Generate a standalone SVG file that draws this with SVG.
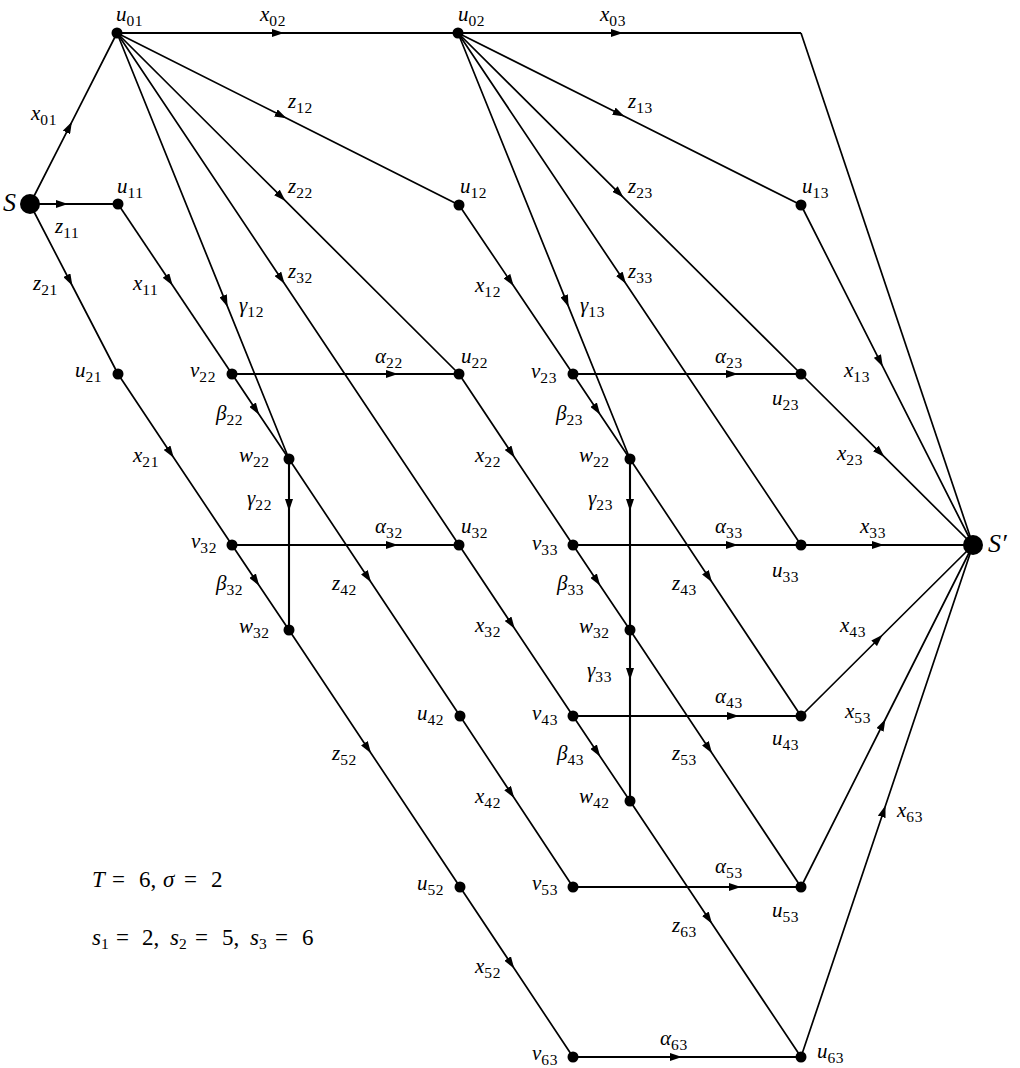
<svg xmlns="http://www.w3.org/2000/svg" width="1020" height="1068" viewBox="0 0 1020 1068">
<style>
.e{fill:none;stroke:#000;stroke-width:1.7;marker-mid:url(#ar)}
.p{fill:none;stroke:#000;stroke-width:1.7}
.h{stroke-width:2.1}
.n{fill:#000}
text{font-family:"Liberation Serif","Times New Roman",serif;fill:#000}
.lb{font-size:21px;font-style:italic}
.sb{font-size:15.5px;font-style:normal;letter-spacing:0.6px}
.big{font-size:26px;font-style:italic}
.eq{font-size:23px}
</style>
<defs>
<marker id="ar" viewBox="0 0 12 8" refX="6" refY="4" markerWidth="12" markerHeight="8" markerUnits="userSpaceOnUse" orient="auto"><path d="M0,0 L12,4 L0,8 z" fill="#000"/></marker>
</defs>
<rect width="1020" height="1068" fill="#fff"/>
<g id="connectors">
<path class="e" d="M30,204 L69.2,127.1 L117,33"/>
<path class="e h" d="M30,204 L62,204 L118,204"/>
<path class="e" d="M30,204 L69.6,280.5 L118,374"/>
<path class="e h" d="M117,33 L278,33 L458,33"/>
<path class="e" d="M117,33 L281.2,115.6 L459,205"/>
<path class="e" d="M117,33 L281.2,196.7 L459,374"/>
<path class="e" d="M117,33 L281.2,278.8 L459,545"/>
<path class="e" d="M117,33 L225.4,301.4 L289,459"/>
<path class="e" d="M118,204 L169.3,280.5 L232,374"/>
<path class="e" d="M232,374 L255.9,409.7 L289,459"/>
<path class="e" d="M118,374 L170.4,452.7 L232,545"/>
<path class="e" d="M232,545 L255.9,580.7 L289,630"/>
<path class="e h" d="M289,459 L289,505 L289,630"/>
<path class="e h" d="M232,374 L392,374 L459,374"/>
<path class="e h" d="M232,545 L392,545 L459,545"/>
<path class="e" d="M289,459 L367.7,577.2 L460,716"/>
<path class="e" d="M289,630 L367.7,748.2 L460,887"/>
<path class="e h" d="M458,33 L617,33 L801,33"/>
<path class="p" d="M801,33 L973,545"/>
<path class="e" d="M458,33 L619.2,113.8 L801,205"/>
<path class="e" d="M458,33 L619.2,193.3 L801,374"/>
<path class="e" d="M458,33 L622.6,278.8 L801,545"/>
<path class="e" d="M458,33 L566.4,301.4 L630,459"/>
<path class="e" d="M459,205 L510.3,281.1 L573,374"/>
<path class="e" d="M459,374 L511.4,452.7 L573,545"/>
<path class="e" d="M459,545 L511.4,623.7 L573,716"/>
<path class="e" d="M460,716 L510.9,793 L573,887"/>
<path class="e" d="M460,887 L510.9,963.5 L573,1057"/>
<path class="e" d="M573,374 L596.9,409.7 L630,459"/>
<path class="e" d="M573,545 L596.9,580.7 L630,630"/>
<path class="e" d="M573,716 L596.9,751.7 L630,801"/>
<path class="e h" d="M630,459 L630,505 L630,630"/>
<path class="e h" d="M630,630 L630,674 L630,801"/>
<path class="e h" d="M573,374 L732,374 L801,374"/>
<path class="e h" d="M573,545 L732,545 L801,545"/>
<path class="e h" d="M573,716 L733,716 L801,716"/>
<path class="e h" d="M573,887 L735,887 L801,887"/>
<path class="e h" d="M573,1057 L676,1057 L801,1057"/>
<path class="e" d="M630,459 L708.7,577.2 L801,716"/>
<path class="e" d="M630,630 L708.7,748.2 L801,887"/>
<path class="e" d="M630,801 L708.7,918.8 L801,1057"/>
<path class="e" d="M801,205 L880.1,361.4 L973,545"/>
<path class="e" d="M801,374 L880.1,452.7 L973,545"/>
<path class="e h" d="M801,545 L878,545 L973,545"/>
<path class="e" d="M801,716 L878.4,639 L973,545"/>
<path class="e" d="M801,887 L882.7,724.5 L973,545"/>
<path class="e" d="M801,1057 L883.6,811.2 L973,545"/>
<text class="lb" x="260" y="21">x<tspan class="sb" dy="5">02</tspan></text>
<text class="lb" x="31" y="120">x<tspan class="sb" dy="5">01</tspan></text>
<text class="lb" x="288" y="108">z<tspan class="sb" dy="5">12</tspan></text>
<text class="lb" x="288" y="193">z<tspan class="sb" dy="5">22</tspan></text>
<text class="lb" x="55" y="233">z<tspan class="sb" dy="5">11</tspan></text>
<text class="lb" x="33" y="290">z<tspan class="sb" dy="5">21</tspan></text>
<text class="lb" x="133" y="290">x<tspan class="sb" dy="5">11</tspan></text>
<text class="lb" x="239" y="312">γ<tspan class="sb" dy="5">12</tspan></text>
<text class="lb" x="288" y="278">z<tspan class="sb" dy="5">32</tspan></text>
<text class="lb" x="600" y="21">x<tspan class="sb" dy="5">03</tspan></text>
<text class="lb" x="628" y="108">z<tspan class="sb" dy="5">13</tspan></text>
<text class="lb" x="628" y="193">z<tspan class="sb" dy="5">23</tspan></text>
<text class="lb" x="475" y="292">x<tspan class="sb" dy="5">12</tspan></text>
<text class="lb" x="580" y="312">γ<tspan class="sb" dy="5">13</tspan></text>
<text class="lb" x="628" y="278">z<tspan class="sb" dy="5">33</tspan></text>
<text class="lb" x="216" y="420">β<tspan class="sb" dy="5">22</tspan></text>
<text class="lb" x="133" y="462">x<tspan class="sb" dy="5">21</tspan></text>
<text class="lb" x="247" y="505">γ<tspan class="sb" dy="5">22</tspan></text>
<text class="lb" x="216" y="590">β<tspan class="sb" dy="5">32</tspan></text>
<text class="lb" x="375" y="363">α<tspan class="sb" dy="5">22</tspan></text>
<text class="lb" x="556" y="420">β<tspan class="sb" dy="5">23</tspan></text>
<text class="lb" x="475" y="462">x<tspan class="sb" dy="5">22</tspan></text>
<text class="lb" x="588" y="505">γ<tspan class="sb" dy="5">23</tspan></text>
<text class="lb" x="375" y="533">α<tspan class="sb" dy="5">32</tspan></text>
<text class="lb" x="332" y="590">z<tspan class="sb" dy="5">42</tspan></text>
<text class="lb" x="557" y="590">β<tspan class="sb" dy="5">33</tspan></text>
<text class="lb" x="475" y="632">x<tspan class="sb" dy="5">32</tspan></text>
<text class="lb" x="715" y="363">α<tspan class="sb" dy="5">23</tspan></text>
<text class="lb" x="844" y="377">x<tspan class="sb" dy="5">13</tspan></text>
<text class="lb" x="837" y="460">x<tspan class="sb" dy="5">23</tspan></text>
<text class="lb" x="715" y="533">α<tspan class="sb" dy="5">33</tspan></text>
<text class="lb" x="860" y="533">x<tspan class="sb" dy="5">33</tspan></text>
<text class="lb" x="672" y="590">z<tspan class="sb" dy="5">43</tspan></text>
<text class="lb" x="840" y="632">x<tspan class="sb" dy="5">43</tspan></text>
<text class="lb" x="587" y="677">γ<tspan class="sb" dy="5">33</tspan></text>
<text class="lb" x="332" y="760">z<tspan class="sb" dy="5">52</tspan></text>
<text class="lb" x="557" y="760">β<tspan class="sb" dy="5">43</tspan></text>
<text class="lb" x="475" y="803">x<tspan class="sb" dy="5">42</tspan></text>
<text class="lb" x="475" y="973">x<tspan class="sb" dy="5">52</tspan></text>
<text class="lb" x="715" y="703">α<tspan class="sb" dy="5">43</tspan></text>
<text class="lb" x="845" y="718">x<tspan class="sb" dy="5">53</tspan></text>
<text class="lb" x="672" y="760">z<tspan class="sb" dy="5">53</tspan></text>
<text class="lb" x="897" y="817">x<tspan class="sb" dy="5">63</tspan></text>
<text class="lb" x="715" y="873">α<tspan class="sb" dy="5">53</tspan></text>
<text class="lb" x="672" y="932">z<tspan class="sb" dy="5">63</tspan></text>
<text class="lb" x="660" y="1045">α<tspan class="sb" dy="5">63</tspan></text>
</g>
<g id="S"><circle class="n" cx="30" cy="204" r="10"/><text class="big" x="3" y="211">S</text></g>
<g id="u01"><circle class="n" cx="117" cy="33" r="5.5"/><text class="lb" x="116" y="21">u<tspan class="sb" dy="5">01</tspan></text></g>
<g id="u11"><circle class="n" cx="118" cy="204" r="5.5"/><text class="lb" x="117" y="193">u<tspan class="sb" dy="5">11</tspan></text></g>
<g id="u21"><circle class="n" cx="118" cy="374" r="5.5"/><text class="lb" x="75" y="377">u<tspan class="sb" dy="5">21</tspan></text></g>
<g id="v22"><circle class="n" cx="232" cy="374" r="5.5"/><text class="lb" x="190" y="377">v<tspan class="sb" dy="5">22</tspan></text></g>
<g id="w22a"><circle class="n" cx="289" cy="459" r="5.5"/><text class="lb" x="239" y="462">w<tspan class="sb" dy="5">22</tspan></text></g>
<g id="v32"><circle class="n" cx="232" cy="545" r="5.5"/><text class="lb" x="191" y="548">v<tspan class="sb" dy="5">32</tspan></text></g>
<g id="w32a"><circle class="n" cx="289" cy="630" r="5.5"/><text class="lb" x="239" y="633">w<tspan class="sb" dy="5">32</tspan></text></g>
<g id="u02"><circle class="n" cx="458" cy="33" r="5.5"/><text class="lb" x="458" y="21">u<tspan class="sb" dy="5">02</tspan></text></g>
<g id="u12"><circle class="n" cx="459" cy="205" r="5.5"/><text class="lb" x="460" y="193">u<tspan class="sb" dy="5">12</tspan></text></g>
<g id="u22"><circle class="n" cx="459" cy="374" r="5.5"/><text class="lb" x="461" y="363">u<tspan class="sb" dy="5">22</tspan></text></g>
<g id="u32"><circle class="n" cx="459" cy="545" r="5.5"/><text class="lb" x="461" y="533">u<tspan class="sb" dy="5">32</tspan></text></g>
<g id="u42"><circle class="n" cx="460" cy="716" r="5.5"/><text class="lb" x="417" y="720">u<tspan class="sb" dy="5">42</tspan></text></g>
<g id="u52"><circle class="n" cx="460" cy="887" r="5.5"/><text class="lb" x="417" y="890">u<tspan class="sb" dy="5">52</tspan></text></g>
<g id="v23"><circle class="n" cx="573" cy="374" r="5.5"/><text class="lb" x="531" y="378">v<tspan class="sb" dy="5">23</tspan></text></g>
<g id="w22b"><circle class="n" cx="630" cy="459" r="5.5"/><text class="lb" x="579" y="462">w<tspan class="sb" dy="5">22</tspan></text></g>
<g id="v33"><circle class="n" cx="573" cy="545" r="5.5"/><text class="lb" x="532" y="550">v<tspan class="sb" dy="5">33</tspan></text></g>
<g id="w32b"><circle class="n" cx="630" cy="630" r="5.5"/><text class="lb" x="579" y="633">w<tspan class="sb" dy="5">32</tspan></text></g>
<g id="v43"><circle class="n" cx="573" cy="716" r="5.5"/><text class="lb" x="532" y="720">v<tspan class="sb" dy="5">43</tspan></text></g>
<g id="w42"><circle class="n" cx="630" cy="801" r="5.5"/><text class="lb" x="579" y="803">w<tspan class="sb" dy="5">42</tspan></text></g>
<g id="v53"><circle class="n" cx="573" cy="887" r="5.5"/><text class="lb" x="532" y="890">v<tspan class="sb" dy="5">53</tspan></text></g>
<g id="v63"><circle class="n" cx="573" cy="1057" r="5.5"/><text class="lb" x="532" y="1060">v<tspan class="sb" dy="5">63</tspan></text></g>
<g id="u13"><circle class="n" cx="801" cy="205" r="5.5"/><text class="lb" x="802" y="193">u<tspan class="sb" dy="5">13</tspan></text></g>
<g id="u23"><circle class="n" cx="801" cy="374" r="5.5"/><text class="lb" x="772" y="405">u<tspan class="sb" dy="5">23</tspan></text></g>
<g id="u33"><circle class="n" cx="801" cy="545" r="5.5"/><text class="lb" x="772" y="577">u<tspan class="sb" dy="5">33</tspan></text></g>
<g id="u43"><circle class="n" cx="801" cy="716" r="5.5"/><text class="lb" x="772" y="745">u<tspan class="sb" dy="5">43</tspan></text></g>
<g id="u53"><circle class="n" cx="801" cy="887" r="5.5"/><text class="lb" x="772" y="917">u<tspan class="sb" dy="5">53</tspan></text></g>
<g id="u63"><circle class="n" cx="801" cy="1057" r="5.5"/><text class="lb" x="817" y="1058">u<tspan class="sb" dy="5">63</tspan></text></g>
<g id="Sprime"><circle class="n" cx="973" cy="545" r="10"/><text class="big" x="988" y="552">S′</text></g>
<g id="params">
<text class="eq" y="887"><tspan x="92" font-style="italic">T</tspan><tspan x="112">=</tspan><tspan x="139">6,</tspan><tspan x="163" font-style="italic">σ</tspan><tspan x="184">=</tspan><tspan x="211">2</tspan></text>
<text class="eq" y="945"><tspan x="92" font-style="italic">s</tspan><tspan class="sb" dy="4">1</tspan><tspan x="116" dy="-4">=</tspan><tspan x="142">2,</tspan><tspan x="170" font-style="italic">s</tspan><tspan class="sb" dy="4">2</tspan><tspan x="195" dy="-4">=</tspan><tspan x="222">5,</tspan><tspan x="250" font-style="italic">s</tspan><tspan class="sb" dy="4">3</tspan><tspan x="275" dy="-4">=</tspan><tspan x="302">6</tspan></text>
</g>
</svg>
